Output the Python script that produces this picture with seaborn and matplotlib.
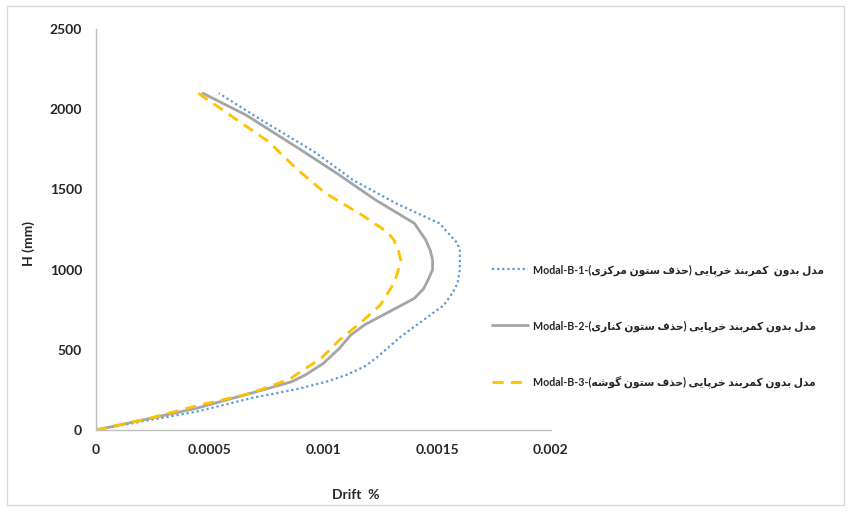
import matplotlib
matplotlib.use("Agg")
import matplotlib.pyplot as plt
import matplotlib.patches as patches
import pandas as pd
import seaborn as sns

# =====================================================
# Data (H in mm, drift %)
# =====================================================
h_b1 = [0, 58, 114, 198, 254, 300, 343, 395, 447, 582, 686, 779, 860, 915, 1000, 1060, 1120, 1164, 1289, 1413, 1559, 1735, 1922, 2100]
drift_b1 = [0, 0.00022, 0.00044, 0.00068, 0.00088, 0.00101, 0.00110, 0.00118, 0.00123, 0.00134, 0.00144, 0.00153,
            0.00157, 0.00159, 0.00160, 0.00160, 0.00160, 0.00159, 0.00151, 0.00132, 0.00113, 0.00096, 0.00074, 0.00054]

h_b2 = [0, 67, 135, 229, 301, 343, 416, 509, 592, 655, 738, 821, 880, 935, 1000, 1060, 1120, 1185, 1289, 1434, 1600, 1766, 1964, 2100]
drift_b2 = [0, 0.00022, 0.00044, 0.00068, 0.00086, 0.00092, 0.00100, 0.00107, 0.00112, 0.00118, 0.00129,
            0.00140, 0.00144, 0.00146, 0.00148, 0.00148, 0.00147, 0.00145, 0.00140, 0.00123, 0.00106, 0.00088, 0.00066, 0.00047]

h_b3 = [0, 75, 150, 229, 316, 364, 447, 561, 665, 779, 915, 1000, 1060, 1120, 1185, 1236, 1340, 1476, 1631, 1797, 1953, 2100]
drift_b3 = [0, 0.00024, 0.00044, 0.00068, 0.00085, 0.00090, 0.00099, 0.00107, 0.00116, 0.00125, 0.00131,
            0.00133, 0.00134, 0.00133, 0.00131, 0.00128, 0.00117, 0.00101, 0.00088, 0.00076, 0.00060, 0.00045]

series_names = ["Modal-B-1", "Modal-B-2", "Modal-B-3"]
series_fa = ["مدل بدون  کمربند خرپایی (حذف ستون مرکزی)",
             "مدل بدون کمربند خرپایی (حذف ستون کناری)",
             "مدل بدون کمربند خرپایی (حذف ستون گوشه)"]
x_ticks = [0, 0.0005, 0.001, 0.0015, 0.002]
x_tick_labels = ["0", "0.0005", "0.001", "0.0015", "0.002"]
y_ticks = [0, 500, 1000, 1500, 2000, 2500]

# =====================================================
# Simple Persian shaping (matplotlib has no bidi / shaping)
# =====================================================
FORMS = {
    'ا': ('\uFE8D', '\uFE8E', None, None),
    'ب': ('\uFE8F', '\uFE90', '\uFE91', '\uFE92'),
    'پ': ('\uFB56', '\uFB57', '\uFB58', '\uFB59'),
    'ت': ('\uFE95', '\uFE96', '\uFE97', '\uFE98'),
    'ح': ('\uFEA1', '\uFEA2', '\uFEA3', '\uFEA4'),
    'خ': ('\uFEA5', '\uFEA6', '\uFEA7', '\uFEA8'),
    'د': ('\uFEA9', '\uFEAA', None, None),
    'ذ': ('\uFEAB', '\uFEAC', None, None),
    'ر': ('\uFEAD', '\uFEAE', None, None),
    'ز': ('\uFEAF', '\uFEB0', None, None),
    'س': ('\uFEB1', '\uFEB2', '\uFEB3', '\uFEB4'),
    'ش': ('\uFEB5', '\uFEB6', '\uFEB7', '\uFEB8'),
    'ف': ('\uFED1', '\uFED2', '\uFED3', '\uFED4'),
    'ک': ('\uFB8E', '\uFB8F', '\uFB90', '\uFB91'),
    'گ': ('\uFB92', '\uFB93', '\uFB94', '\uFB95'),
    'ل': ('\uFEDD', '\uFEDE', '\uFEDF', '\uFEE0'),
    'م': ('\uFEE1', '\uFEE2', '\uFEE3', '\uFEE4'),
    'ن': ('\uFEE5', '\uFEE6', '\uFEE7', '\uFEE8'),
    'ه': ('\uFEE9', '\uFEEA', '\uFEEB', '\uFEEC'),
    'و': ('\uFEED', '\uFEEE', None, None),
    'ی': ('\uFBFC', '\uFBFD', '\uFBFE', '\uFBFF'),
}


def shape_fa(text):
    out = []
    for i, c in enumerate(text):
        if c not in FORMS:
            out.append(c)
            continue
        prev = text[i - 1] if i > 0 else ''
        nxt = text[i + 1] if i + 1 < len(text) else ''
        join_prev = prev in FORMS and FORMS[prev][2] is not None
        join_next = FORMS[c][2] is not None and nxt in FORMS
        iso, fin, ini, med = FORMS[c]
        if join_prev and join_next:
            out.append(med)
        elif join_prev:
            out.append(fin)
        elif join_next:
            out.append(ini)
        else:
            out.append(iso)
    visual = ''.join(reversed(out))
    return visual.translate(str.maketrans('()', ')('))


labels = [f"{n}-{shape_fa(fa)}" for n, fa in zip(series_names, series_fa)]

# =====================================================
# Plot
# =====================================================
sns.set_style("white")
plt.rcParams['font.family'] = ['Lato', 'DejaVu Sans']

fig = plt.figure(figsize=(8.5, 5.11), dpi=100)
ax = fig.add_axes([0.113, 0.1585, 0.535, 0.7845])

df1 = pd.DataFrame({"Drift": drift_b1, "H": h_b1})
df2 = pd.DataFrame({"Drift": drift_b2, "H": h_b2})
df3 = pd.DataFrame({"Drift": drift_b3, "H": h_b3})

sns.lineplot(data=df1, x="Drift", y="H", sort=False, estimator=None, ax=ax,
             color="#5B9BD5", linewidth=1.6, linestyle=(0, (1, 1.3)), label=labels[0])
sns.lineplot(data=df2, x="Drift", y="H", sort=False, estimator=None, ax=ax,
             color="#A5A5A5", linewidth=2, label=labels[1])
sns.lineplot(data=df3, x="Drift", y="H", sort=False, estimator=None, ax=ax,
             color="#FFC000", linewidth=2, linestyle=(0, (4, 2.6)), label=labels[2])

ax.set_xlim(0, 0.002)
ax.set_ylim(0, 2500)
ax.set_xticks(x_ticks)
ax.set_xticklabels(x_tick_labels)
ax.set_yticks(y_ticks)
ax.tick_params(length=0, labelsize=10, pad=10)
for t in ax.get_xticklabels() + ax.get_yticklabels():
    t.set_fontweight('bold')

sns.despine(ax=ax)
for s in ["left", "bottom"]:
    ax.spines[s].set_color("#BFBFBF")
    ax.spines[s].set_linewidth(1)

ax.set_xlabel("Drift  %", fontsize=10, fontweight='bold')
ax.set_ylabel("H (mm)", fontsize=10, fontweight='bold')
ax.xaxis.set_label_coords(0.571, -0.148)
ax.yaxis.set_label_coords(-0.134, 0.466)

ax.get_legend().remove()
handles, labs = ax.get_legend_handles_labels()
leg = fig.legend(handles, labs, loc='center left', bbox_to_anchor=(0.568, 0.362),
                 frameon=False, handlelength=3.3, labelspacing=4.1, handletextpad=0.45,
                 prop={'weight': 'bold', 'size': 7.7})

fig.patches.append(patches.Rectangle((0.008, 0.012), 0.985, 0.976, transform=fig.transFigure,
                                     fill=False, edgecolor="#D9D9D9", linewidth=1))

plt.savefig("out.png", dpi=100)
